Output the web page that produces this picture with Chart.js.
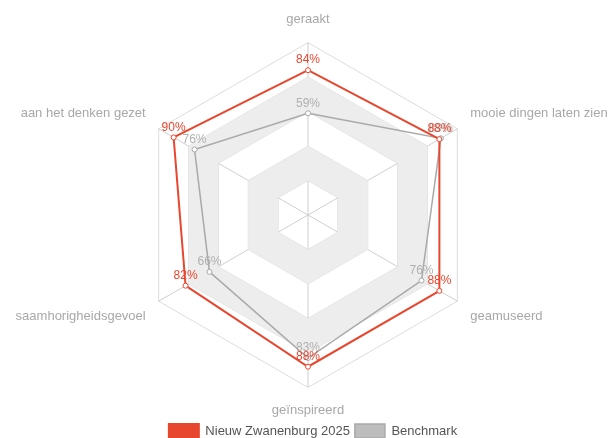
<!DOCTYPE html>
<html>
<head>
<meta charset="utf-8">
<script src="https://cdn.jsdelivr.net/npm/chart.js@4.4.0/dist/chart.umd.min.js"></script>
<style>
  html, body { margin: 0; padding: 0; background: #fff; }
  #wrap { width: 614px; height: 438px; }
</style>
</head>
<body>
<div id="wrap"><canvas id="radar"></canvas></div>
<script>
const categories = ['geraakt', 'mooie dingen laten zien', 'geamuseerd', 'geïnspireerd', 'saamhorigheidsgevoel', 'aan het denken gezet'];
const zwanenburg = [84, 88, 88, 88, 82, 90];
const benchmark = [59, 89, 76, 83, 66, 76];
const ringSteps = [20, 40, 60, 80, 100];

// alternating band fill between the rings (20-40 and 60-80 are grey)
const bandPlugin = {
  id: 'bands',
  beforeDatasetsDraw(chart) {
    const r = chart.scales.r;
    const ctx = chart.ctx;
    const n = categories.length;
    const poly = (v) => {
      const d = r.getDistanceFromCenterForValue(v);
      for (let i = 0; i < n; i++) {
        const p = r.getPointPosition(i, d);
        if (i === 0) ctx.moveTo(p.x, p.y); else ctx.lineTo(p.x, p.y);
      }
      ctx.closePath();
    };
    ctx.save();
    ctx.fillStyle = '#ededed';
    for (let k = 0; k < ringSteps.length - 1; k += 2) {
      ctx.beginPath();
      poly(ringSteps[k + 1]);
      poly(ringSteps[k]);
      ctx.fill('evenodd');
    }
    ctx.restore();
  }
};

// value labels just above each point
const valueLabels = {
  id: 'valueLabels',
  afterDatasetsDraw(chart) {
    const ctx = chart.ctx;
    ctx.save();
    ctx.font = '12px "Liberation Sans", Arial, sans-serif';
    ctx.textAlign = 'center';
    ctx.textBaseline = 'bottom';
    for (let di = chart.data.datasets.length - 1; di >= 0; di--) {
      const ds = chart.data.datasets[di];
      const meta = chart.getDatasetMeta(di);
      ctx.fillStyle = ds.labelColor;
      meta.data.forEach((pt, i) => {
        ctx.fillText(ds.data[i] + '%', pt.x, pt.y - 4);
      });
    }
    ctx.restore();
  }
};

new Chart(document.getElementById('radar'), {
  type: 'radar',
  data: {
    labels: categories,
    datasets: [{
      label: 'Nieuw Zwanenburg 2025',
      data: zwanenburg,
      borderColor: '#e8472f',
      backgroundColor: '#e8472f',
      fill: false,
      borderWidth: 2,
      pointRadius: 2.5,
      pointBackgroundColor: '#fff',
      pointBorderColor: '#e8472f',
      pointBorderWidth: 1,
      labelColor: '#e8472f'
    }, {
      label: 'Benchmark',
      data: benchmark,
      borderColor: '#a9a9a9',
      backgroundColor: '#bdbdbd',
      fill: false,
      borderWidth: 1.5,
      pointRadius: 2.5,
      pointBackgroundColor: '#fff',
      pointBorderColor: '#a9a9a9',
      pointBorderWidth: 1,
      labelColor: '#b0b0b0'
    }]
  },
  options: {
    responsive: true,
    maintainAspectRatio: false,
    animation: false,
    layout: { padding: { top: 12, bottom: -10, left: 12, right: 0 } },
    scales: {
      r: {
        min: 0,
        max: 100,
        ticks: { stepSize: 20, display: false },
        grid: { color: '#dcdcdc', lineWidth: 1 },
        angleLines: { color: '#cfcfcf' },
        pointLabels: {
          color: '#a8a8a8',
          font: { family: '"Liberation Sans", Arial, sans-serif', size: 13 },
          padding: 15
        }
      }
    },
    plugins: {
      legend: {
        position: 'bottom',
        labels: {
          boxWidth: 30,
          boxHeight: 14,
          padding: 5,
          color: '#555',
          font: { family: '"Liberation Sans", Arial, sans-serif', size: 13 }
        }
      },
      tooltip: { enabled: false }
    }
  },
  plugins: [bandPlugin, valueLabels]
});
</script>
</body>
</html>
